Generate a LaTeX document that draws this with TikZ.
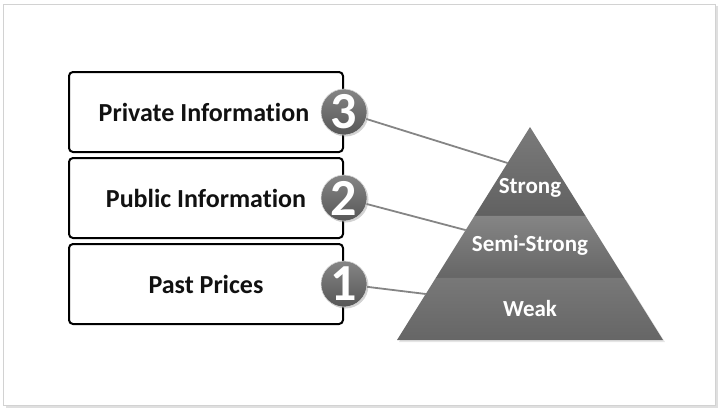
\documentclass[tikz,border=0pt]{standalone}
\usepackage{fontspec}
\setmainfont{Carlito}[Ligatures={NoCommon,NoDiscretionary}]
\usetikzlibrary{shadows,calc}
\definecolor{boxtext}{HTML}{111111}
\definecolor{linegray}{HTML}{858585}
\definecolor{framegray}{HTML}{D2D2D2}
\tikzset{
  infobox/.style={draw=black,line width=2pt,rounded corners=4pt,fill=white,
    minimum width=274pt,minimum height=80pt,inner sep=0pt,
    font=\bfseries\fontsize{26}{28}\selectfont,text=boxtext},
  numcircle/.style={circle,minimum size=46pt,inner sep=0pt,
    top color=black!48,bottom color=black!66,
    shading angle=0,
    draw=white!70!gray,line width=0.6pt,
    drop shadow={shadow xshift=1.5pt,shadow yshift=-1.5pt,opacity=0.35},
    text=white,font=\bfseries\fontsize{52}{52}\selectfont},
  layertext/.style={text=white,font=\bfseries\fontsize{23}{25}\selectfont},
  connector/.style={draw=linegray,line width=1.8pt},
}
\begin{document}
\begin{tikzpicture}[x=1pt,y=-1pt]
\useasboundingbox (0,0) rectangle (720,410);
% frame
\draw[framegray!70,line width=2pt] (6,406.5) -- (716.5,406.5) -- (716.5,6);
\draw[framegray,line width=1pt] (3.5,4.5) rectangle (715,405);

% boxes
\node[infobox] (b3) at (206,112) {\hspace*{-4pt}Private Information};
\node[infobox] (b2) at (206,198) {Public Information};
\node[infobox] (b1) at (206,284) {Past Prices};

% pyramid
\coordinate (apex) at (530,127);
\coordinate (bl) at (397,340);
\coordinate (br) at (663,340);
\path (apex) -- (bl) coordinate[pos=0.4178] (l1) coordinate[pos=0.7089] (l2);
\path (apex) -- (br) coordinate[pos=0.4178] (r1) coordinate[pos=0.7089] (r2);
\fill[black!20,opacity=0.5] ($(l2)+(2,2)$) -- ($(bl)+(2,2)$) -- ($(br)+(2,2)$) -- ($(r2)+(2,2)$) -- cycle;
\shade[top color=black!52,bottom color=black!62] (apex) -- (r1) -- (l1) -- cycle;
\shade[top color=black!48,bottom color=black!60] (l1) -- (r1) -- (r2) -- (l2) -- cycle;
\shade[top color=black!53,bottom color=black!60] (l2) -- (r2) -- (br) -- (bl) -- cycle;

\node[layertext] (strong) at (530,188) {Strong};
\node[layertext] (semi) at (530,245) {Semi-Strong};
\node[layertext] (weak) at (530,309) {Weak};

% connector end points on the pyramid's left edge
\path (apex) -- (bl) coordinate[pos=0.169] (p3) coordinate[pos=0.484] (p2) coordinate[pos=0.784] (p1);

% circles
\node[numcircle] (c3) at (b3.east) {3};
\node[numcircle] (c2) at (b2.east) {2};
\node[numcircle] (c1) at (b1.east) {1};

% connectors
\draw[connector] (c3) -- (p3);
\draw[connector] (c2) -- (p2);
\draw[connector] (c1) -- (p1);
\end{tikzpicture}
\end{document}
